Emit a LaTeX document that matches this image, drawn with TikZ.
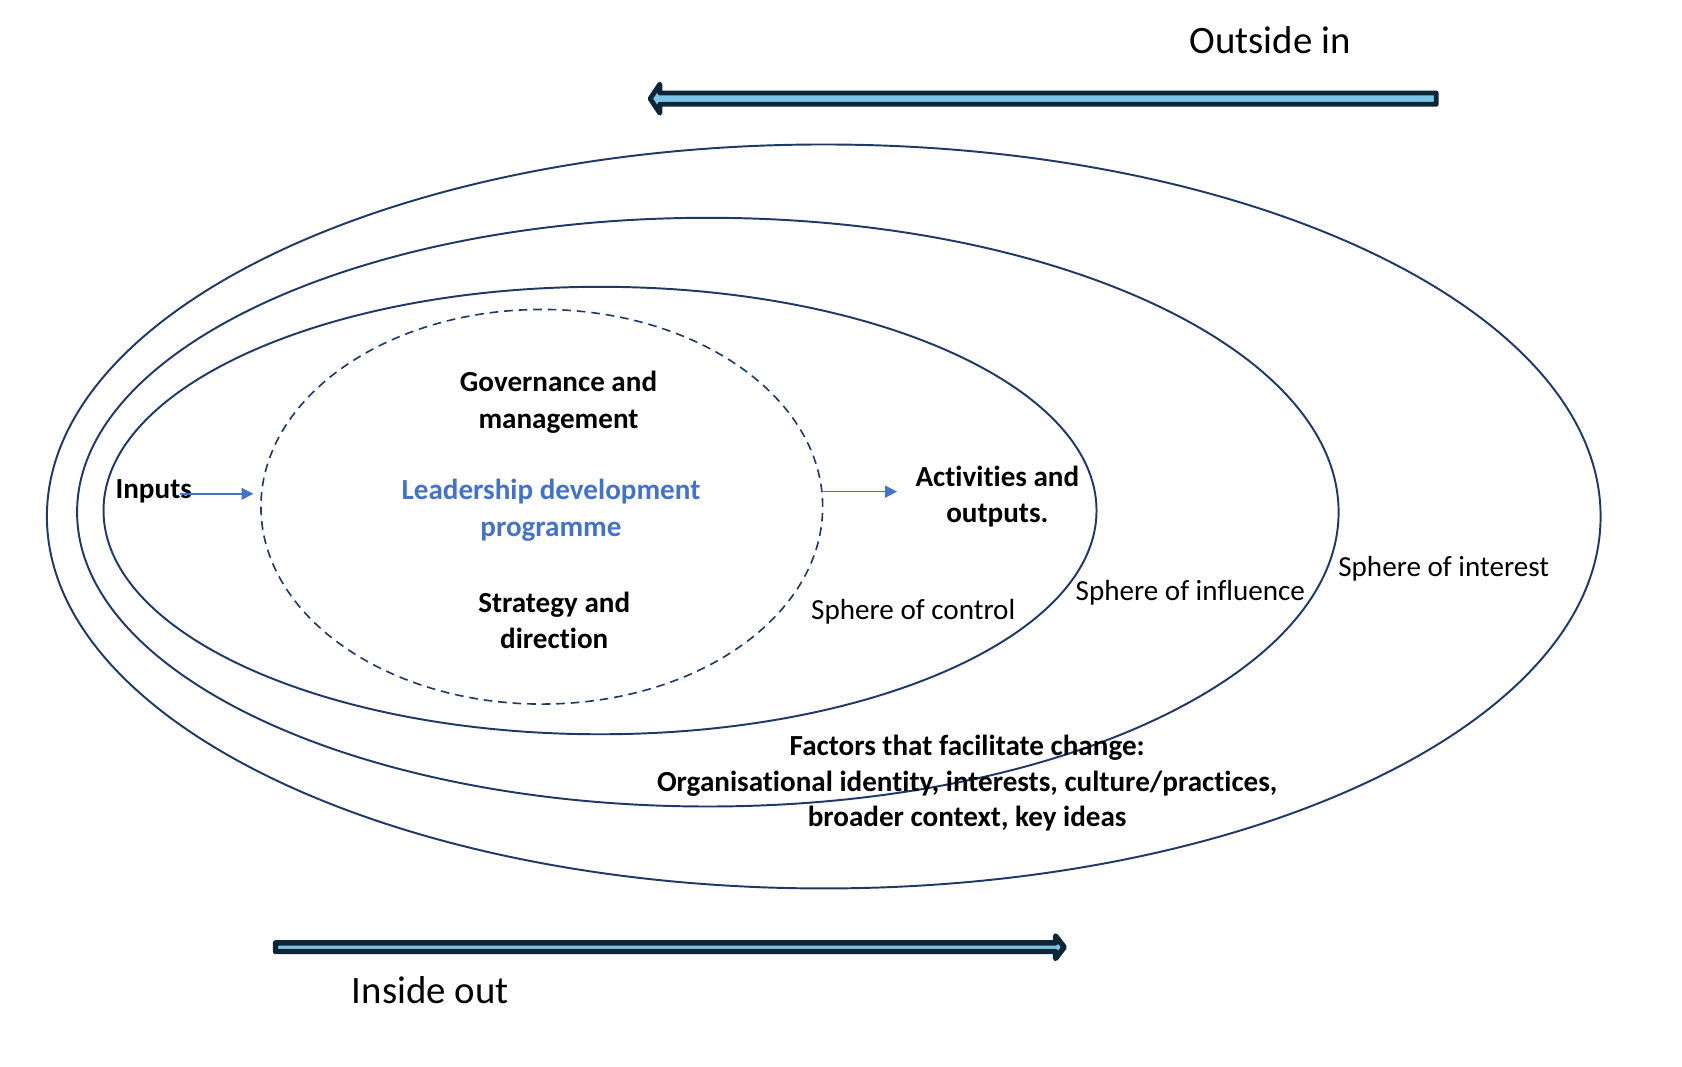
\documentclass[tikz,border=0pt]{standalone}
\usepackage{fontspec}
\setmainfont[Ligatures=NoCommon]{Carlito}
\usetikzlibrary{arrows.meta,shapes.geometric}
\definecolor{navy}{HTML}{1F3864}
\definecolor{arrdark}{HTML}{0C2636}
\definecolor{arrlight}{HTML}{7CC5E6}
\definecolor{ldpblue}{HTML}{4472C4}
\tikzset{
  sphere/.style={ellipse, draw=navy, line width=1.8pt, inner sep=0pt, outer sep=0pt},
  core/.style={ellipse, draw=navy, line width=1.5pt, dash pattern=on 8pt off 5.5pt, inner sep=0pt, outer sep=0pt},
  bodytxt/.style={font=\fontsize{27}{32}\selectfont, inner sep=0pt, anchor=mid},
  boldtxt/.style={bodytxt, font=\fontsize{27}{32}\selectfont\bfseries},
  bigtxt/.style={font=\fontsize{36}{40}\selectfont, inner sep=0pt, anchor=base},
  bluearr/.style={draw=ldpblue, line width=1.3pt, -{Triangle[length=11pt,width=11pt]}},
  blockarr/.style={draw=arrdark, fill=arrlight, line join=round}
}
\begin{document}
\begin{tikzpicture}[x=1pt,y=-1pt]
\useasboundingbox (0,0) rectangle (1560,989.6);
% spheres
\node[sphere, minimum width=1441pt, minimum height=690pt] (interest) at (764,479) {};
\node[sphere, minimum width=1170pt, minimum height=546pt] (influence) at (656.5,475) {};
\node[sphere, minimum width=921pt, minimum height=415pt] (control) at (556.5,473.5) {};
\node[core, minimum width=521pt, minimum height=366pt] (ldp) at (502.5,470) {};
% texts in the core
\node[boldtxt] (gov1) at (518,361) {Governance and};
\node[boldtxt] (gov2) at (518,395) {management};
\node[boldtxt, text=ldpblue] (ldp1) at (511,461) {Leadership development};
\node[boldtxt, text=ldpblue] (ldp2) at (511,495) {programme};
\node[boldtxt] (str1) at (514,566) {Strategy and};
\node[boldtxt] (str2) at (514,599) {direction};
% inputs / outputs
\node[boldtxt, anchor=mid west] (inputs) at (107,460) {Inputs};
\node[boldtxt] (act1) at (925,449) {Activities and};
\node[boldtxt] (act2) at (925,482) {outputs.};
\coordinate (inA) at (167,458);
\coordinate (inB) at (235,458);
\coordinate (outA) at (763,456);
\coordinate (outB) at (832,456);
\draw[bluearr] (inA) -- (inB);
\draw[bluearr] (outA) -- (outB);
% sphere labels
\node[bodytxt] (lcontrol) at (847,572) {Sphere of control};
\node[bodytxt] (linfluence) at (1104,555) {Sphere of influence};
\node[bodytxt] (linterest) at (1339,532) {Sphere of interest};
% factors
\node[boldtxt] (fac1) at (897,698) {Factors that facilitate change:};
\node[boldtxt] (fac2) at (897,732) {Organisational identity, interests, culture/practices,};
\node[boldtxt] (fac3) at (897,764) {broader context, key ideas};
% big arrows
\draw[blockarr, line width=4.5pt]
  (1332,86.25) -- (612,86.25) -- (612,78) -- (603,91.5) -- (612,105) -- (612,96.75) -- (1332,96.75) -- cycle;
\draw[blockarr, line width=5pt]
  (255.5,874.5) -- (979,874.5) -- (979,868) -- (987,878.5) -- (979,889) -- (979,882.5) -- (255.5,882.5) -- cycle;
\node[bigtxt] (outsidein) at (1178,50) {Outside in};
\node[bigtxt] (insideout) at (399,931) {Inside out};
\end{tikzpicture}
\end{document}
